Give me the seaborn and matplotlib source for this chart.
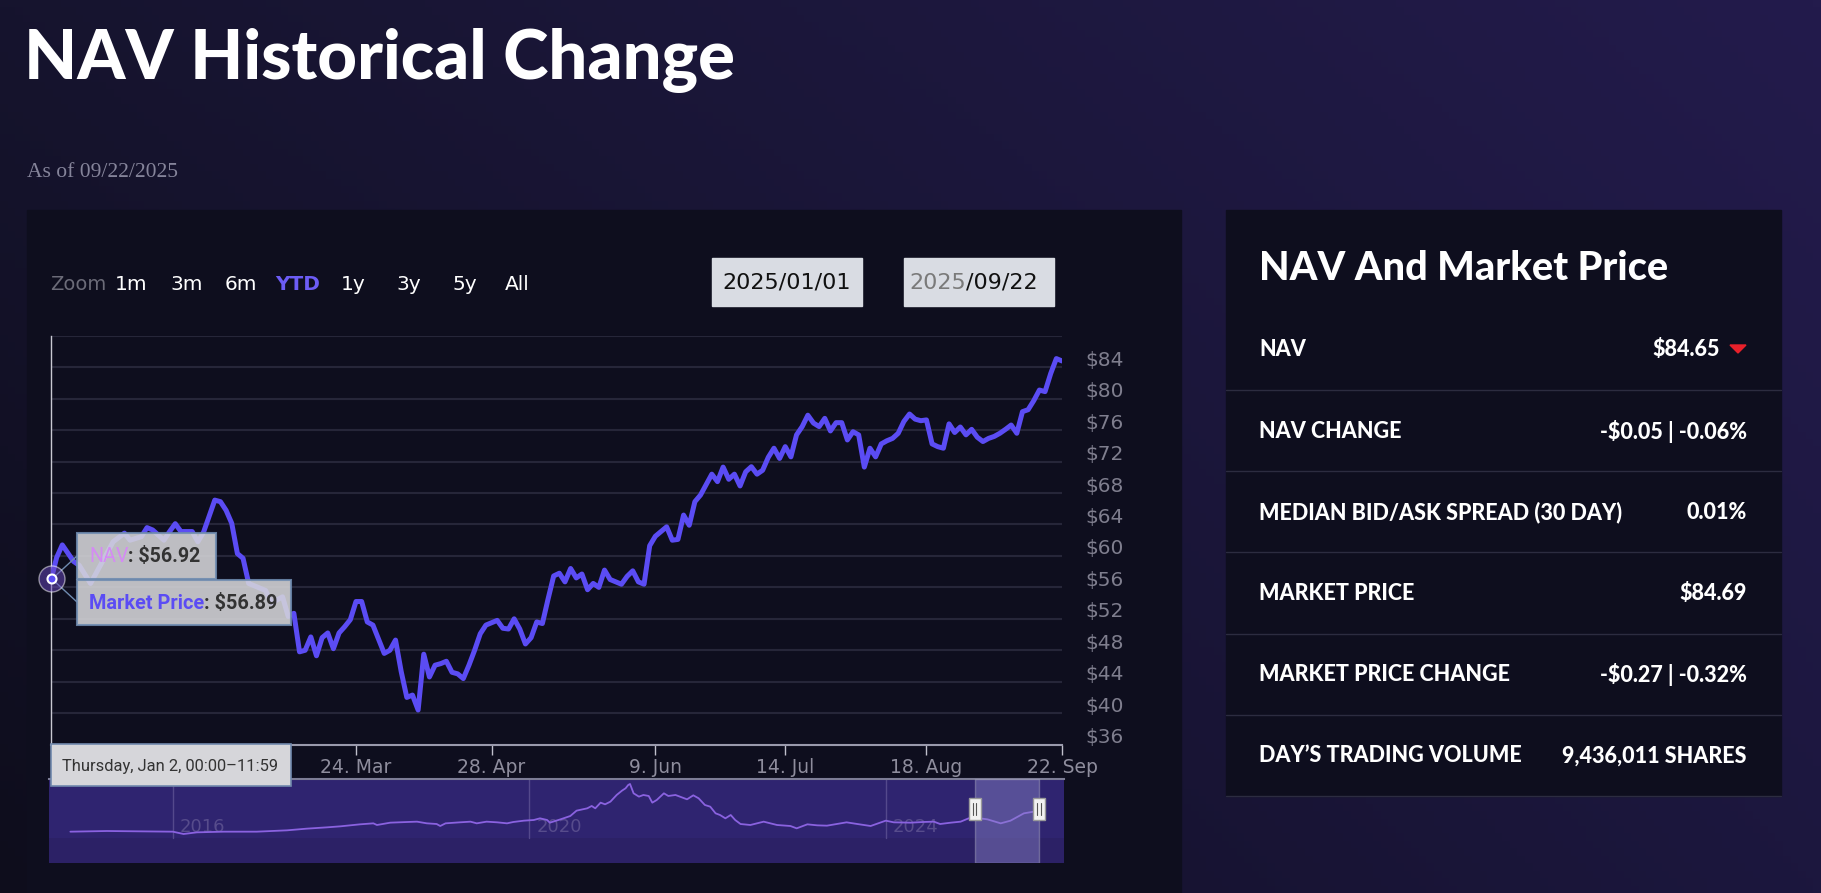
import numpy as np
import pandas as pd
import matplotlib
matplotlib.use("Agg")
import matplotlib.pyplot as plt
import seaborn as sns
from matplotlib.patches import Rectangle, Circle, Polygon
from matplotlib.transforms import ScaledTranslation

W, H = 1821, 893

# NAV, YTD 2025 (trading-day dates)
nav_days = [
    "01-02", "01-03", "01-06", "01-08", "01-10", "01-14", "01-21", "01-23", "01-24", "01-28",
    "01-29", "01-30", "02-03", "02-04", "02-05", "02-06", "02-07", "02-10", "02-11", "02-12",
    "02-14", "02-18", "02-19", "02-20", "02-21", "02-24", "02-25", "02-27", "02-28", "03-03",
    "03-05", "03-06", "03-07", "03-10", "03-11", "03-12", "03-13", "03-14", "03-17", "03-18",
    "03-19", "03-20", "03-21", "03-24", "03-25", "03-26", "03-27", "03-31", "04-01", "04-02",
    "04-03", "04-04", "04-07", "04-08", "04-09", "04-10", "04-11", "04-14", "04-15", "04-16",
    "04-17", "04-21", "04-22", "04-23", "04-24", "04-25", "04-29", "04-30", "05-01", "05-02",
    "05-05", "05-06", "05-07", "05-08", "05-09", "05-12", "05-13", "05-14", "05-15", "05-16",
    "05-19", "05-20", "05-21", "05-22", "05-23", "05-27", "05-28", "05-30", "06-02", "06-03",
    "06-04", "06-05", "06-06", "06-09", "06-11", "06-12", "06-13", "06-16", "06-17", "06-18",
    "06-20", "06-24", "06-25", "06-26", "06-27", "06-30", "07-01", "07-02", "07-03", "07-07",
    "07-08", "07-09", "07-10", "07-11", "07-14", "07-15", "07-16", "07-17", "07-18", "07-21",
    "07-22", "07-23", "07-24", "07-25", "07-28", "07-29", "07-30", "07-31", "08-01", "08-04",
    "08-05", "08-06", "08-07", "08-08", "08-11", "08-12", "08-13", "08-14", "08-15", "08-18",
    "08-19", "08-20", "08-21", "08-22", "08-25", "08-26", "08-27", "08-28", "08-29", "09-02",
    "09-03", "09-04", "09-05", "09-08", "09-09", "09-10", "09-11", "09-12", "09-15", "09-16",
    "09-17", "09-18", "09-19", "09-22",
]
nav_values = [
    56.92, 59.8, 61.4, 59.3, 58.8, 56.5, 61.8, 62.9, 62.0, 62.45,
    63.6, 63.3, 62.0, 63.1, 64.1, 63.1, 63.1, 63.1, 61.8, 63.0,
    67.1, 66.9, 65.8, 64.15, 60.3, 59.7, 56.5, 55.9, 55.6, 54.0,
    54.8, 52.3, 52.7, 47.8, 48.0, 49.7, 47.3, 49.6, 50.2, 48.2,
    50.2, 51.0, 51.9, 54.2, 54.2, 51.6, 51.2, 47.6, 48.0, 49.3,
    45.3, 42.0, 42.3, 40.4, 47.5, 44.6, 46.1, 46.3, 46.6, 45.2,
    45.0, 44.4, 46.1, 48.0, 50.1, 51.2, 51.8, 50.8, 50.7, 52.0,
    50.7, 48.8, 49.6, 51.6, 51.4, 54.5, 57.45, 57.8, 56.7, 58.4,
    57.2, 57.7, 55.7, 56.5, 56.0, 58.2, 57.0, 56.4, 57.4, 58.1,
    56.7, 56.4, 61.3, 62.5, 63.7, 62.0, 62.1, 65.2, 63.9, 66.9,
    67.75, 70.4, 69.45, 71.3, 69.75, 70.4, 68.9, 70.7, 71.35, 70.4,
    70.9, 72.55, 73.7, 72.4, 73.9, 72.6, 75.4, 76.45, 77.9, 76.9,
    76.45, 77.5, 75.9, 76.95, 76.95, 74.75, 75.8, 75.4, 71.3, 73.7,
    72.6, 74.25, 74.65, 74.95, 75.6, 77.1, 78.05, 77.4, 77.2, 77.3,
    74.25, 73.9, 73.7, 76.8, 75.7, 76.4, 75.4, 76.1, 75.1, 74.55,
    74.95, 75.2, 75.6, 76.1, 76.65, 75.6, 78.35, 78.6, 79.75, 81.1,
    80.9, 83.2, 85.1, 84.8,
]
market_holidays = ["2025-01-09", "2025-01-20", "2025-02-17", "2025-04-18",
                   "2025-05-26", "2025-06-19", "2025-07-04", "2025-09-01"]
tick_days = ["2025-02-10", "2025-03-24", "2025-04-28", "2025-06-09",
             "2025-07-14", "2025-08-18", "2025-09-22"]
# first label sits under the hover date tooltip in the screenshot
tick_labels = ["", "24. Mar", "28. Apr", "9. Jun", "14. Jul", "18. Aug", "22. Sep"]
y_ticks = [36, 40, 44, 48, 52, 56, 60, 64, 68, 72, 76, 80, 84]

# navigator: full history (decimal year, price)
hist_years = [
    2014.85, 2015.26, 2015.63, 2016.00, 2016.12, 2016.27, 2016.57, 2016.94, 2017.28, 2017.50,
    2017.73, 2017.88, 2018.10, 2018.25, 2018.29, 2018.44, 2018.63, 2018.74, 2018.85, 2018.96,
    2019.00, 2019.06, 2019.22, 2019.34, 2019.41, 2019.52, 2019.64, 2019.75, 2019.82, 2019.94,
    2020.05, 2020.12, 2020.20, 2020.23, 2020.35, 2020.46, 2020.53, 2020.65, 2020.70, 2020.74,
    2020.80, 2020.85, 2020.91, 2020.98, 2021.04, 2021.08, 2021.11, 2021.13, 2021.17, 2021.23,
    2021.28, 2021.34, 2021.38, 2021.43, 2021.51, 2021.56, 2021.64, 2021.69, 2021.77, 2021.84,
    2021.90, 2021.97, 2022.03, 2022.09, 2022.14, 2022.20, 2022.26, 2022.31, 2022.37, 2022.48,
    2022.63, 2022.78, 2022.93, 2023.00, 2023.12, 2023.23, 2023.34, 2023.45, 2023.56, 2023.68,
    2023.83, 2024.00, 2024.09, 2024.28, 2024.42, 2024.54, 2024.61, 2024.73, 2024.84, 2024.93,
    2025.00, 2025.14, 2025.29, 2025.40, 2025.55, 2025.66,
]
hist_values = [
    15, 17, 16, 15, 8, 13, 15, 15, 19, 24,
    28, 31, 37, 40, 35, 42, 44, 45, 40, 38,
    32, 40, 43, 45, 40, 45, 43, 40, 44, 48,
    50, 55, 50, 42, 52, 62, 78, 85, 92, 85,
    102, 97, 105, 125, 138, 145, 155, 158, 130, 120,
    125, 122, 102, 110, 130, 122, 125, 120, 112, 124,
    115, 95, 90, 70, 65, 55, 65, 50, 38, 35,
    45, 35, 32, 25, 37, 34, 33, 38, 43, 38,
    32, 48, 43, 42, 44, 45, 38, 42, 45, 55,
    57, 52, 40, 48, 70, 75,
]
year_ticks = [2016, 2020, 2024]
selected_range = [2025.0, 2025.72]

zoom_buttons = ["1m", "3m", "6m", "YTD", "1y", "3y", "5y", "All"]
stat_labels = ["NAV", "NAV CHANGE", "MEDIAN BID/ASK SPREAD (30 DAY)", "MARKET PRICE",
               "MARKET PRICE CHANGE", "DAY\u2019S TRADING VOLUME"]
stat_values = ["$84.65", "-$0.05 | -0.06%", "0.01%", "$84.69", "-$0.27 | -0.32%",
               "9,436,011 SHARES"]

LINE = "#5b4cf4"
PANEL = "#0e0e1e"
HEAD = ["Lato", "DejaVu Sans"]
NARROW = ["Roboto", "DejaVu Sans"]

sns.set_theme(style="dark")
plt.rcParams["font.family"] = ["DejaVu Sans"]

fig = plt.figure(figsize=(W / 100, H / 100), dpi=100)


def rect(x0, y0, x1, y1):
    return [x0 / W, 1 - y1 / H, (x1 - x0) / W, (y1 - y0) / H]


def pixel_axes(z):
    a = fig.add_axes([0, 0, 1, 1], zorder=z)
    a.set_xlim(0, W)
    a.set_ylim(H, 0)
    a.axis("off")
    a.patch.set_alpha(0)
    return a


# background gradient + panels
bg = pixel_axes(0)
gx = np.linspace(0, 1, 240)[None, :, None]
gy = np.linspace(0, 1, 120)[:, None, None]
tl, tr = np.array([22, 20, 46]) / 255, np.array([35, 27, 76]) / 255
bl, br = np.array([14, 13, 28]) / 255, np.array([28, 23, 62]) / 255
img = (1 - gx) * (1 - gy) * tl + gx * (1 - gy) * tr + (1 - gx) * gy * bl + gx * gy * br
bg.imshow(img, extent=[0, W, H, 0], aspect="auto", zorder=0)
bg.add_patch(Rectangle((27, 210), 1154, 690, color=PANEL, zorder=1))
bg.add_patch(Rectangle((1226, 210), 555, 586, color=PANEL, zorder=1))

bg.text(24, 79, "NAV Historical Change", fontsize=49.5, weight="black", color="white",
        family=HEAD, va="baseline", zorder=2)
bg.text(27, 177, "As of 09/22/2025", fontsize=15.5, color="#85849a",
        family=["Liberation Serif", "DejaVu Serif"], va="baseline", zorder=2)

# range selector row
bg.text(50, 285, "Zoom", fontsize=14, color="#6b6b78", va="center", zorder=2)
for name, x in zip(zoom_buttons, [115, 170, 225, 275, 341, 396, 452, 505]):
    sel = name == "YTD"
    bg.text(x, 285, name, fontsize=14.5, va="center", zorder=2,
            color="#6c5cf5" if sel else "white", weight="bold" if sel else "normal")
bg.add_patch(Rectangle((712, 258), 150, 48, color="#d9dce3", zorder=2))
bg.add_patch(Rectangle((904, 258), 150, 48, color="#d9dce3", zorder=2))
bg.text(787, 283, "2025/01/01", fontsize=16, color="#111111", ha="center", va="center", zorder=3)
bg.text(966, 283, "2025", fontsize=16, color="#7a7a7a", ha="right", va="center", zorder=3)
bg.text(966, 283, "/09/22", fontsize=16, color="#111111", ha="left", va="center", zorder=3)

# right stats panel
bg.text(1259, 269, "NAV And Market Price", fontsize=28.5, weight="black", color="white",
        family=HEAD, va="center", zorder=2)
for i, (lab, val) in enumerate(zip(stat_labels, stat_values)):
    yc = 350 + i * 81.2
    bg.text(1259, yc, lab, fontsize=15.5, weight="black", color="white", family=HEAD,
            va="center", zorder=2)
    bg.text(1720 if i == 0 else 1747, yc, val, fontsize=15.5, weight="black", color="white",
            family=HEAD, ha="right", va="center", zorder=2)
    bg.plot([1226, 1781], [yc + 40, yc + 40], color="#2c2c40", lw=1, zorder=2)
bg.add_patch(Polygon([[1730, 345], [1746, 345], [1738, 353]], color="#e8202a", zorder=2))

# main price chart (ordinal trading-day axis)
sessions = pd.bdate_range("2025-01-02", "2025-09-22", freq="C", holidays=market_holidays)
pos = sessions.get_indexer(pd.to_datetime(["2025-" + d for d in nav_days]))
tick_pos = sessions.get_indexer(pd.to_datetime(tick_days))

ax = fig.add_axes(rect(51, 335.8, 1062, 744.6), zorder=2)
ax.patch.set_alpha(0)
ax.axhline(88, color="#262639", lw=1.5, zorder=1)
sns.lineplot(x=pos, y=nav_values, ax=ax, color=LINE, lw=3.6, zorder=3,
             solid_joinstyle="round", solid_capstyle="round")
ax.set_xlim(0, len(sessions) - 1)
ax.set_ylim(36, 88)
ax.set_yticks(y_ticks)
ax.set_yticklabels([f"${v}" for v in y_ticks])
ax.set_xticks(tick_pos)
ax.set_xticklabels(tick_labels)
ax.grid(axis="y", color="#262639", lw=1.5)
ax.grid(axis="x", visible=False)
ax.yaxis.tick_right()
ax.tick_params(axis="y", length=0, pad=17, labelcolor="#7f7e8e", labelsize=14.5)
ax.tick_params(axis="x", length=7, width=1, color="#c0c0cc", labelcolor="#8e8d9d",
               labelsize=13.5, pad=3, bottom=True)
for s in ["top", "right"]:
    ax.spines[s].set_visible(False)
ax.spines["left"].set_color("#c8c8d2")
ax.spines["left"].set_linewidth(1)
ax.spines["bottom"].set_color("#9a9aac")
ax.spines["bottom"].set_linewidth(1.5)
ax.set_xlabel("")
ax.set_ylabel("")
shift = ScaledTranslation(0, 9 / 100, fig.dpi_scale_trans)
for lab in ax.get_yticklabels():
    lab.set_transform(lab.get_transform() + shift)

# navigator
nv = fig.add_axes(rect(49, 779.3, 1064, 862.7), zorder=2)
nv.set_facecolor("#2f2470")
nv.axhspan(-78, -5, color="#2c2166", lw=0, zorder=0)
for yr in year_ticks:
    nv.plot([yr, yr], [-5, 172], color="#54498c", lw=1, zorder=1)
    nv.text(yr + 0.08, 30, str(yr), color="#574c8c", fontsize=13, va="center", zorder=1)
sns.lineplot(x=hist_years, y=hist_values, ax=nv, color="#8a62e0", lw=1.3, zorder=2)
nv.add_patch(Rectangle((selected_range[0], -78), selected_range[1] - selected_range[0], 250,
                       fc="#8a84c8", alpha=0.45, ec="#a8a8c0", lw=1, zorder=3))
for hx in selected_range:
    nv.add_patch(Rectangle((hx - 0.067, 50), 0.134, 66, fc="#f2f2f2", ec="#9a9a9a",
                           lw=1, zorder=4))
    for dx in (-0.018, 0.018):
        nv.plot([hx + dx, hx + dx], [66, 100], color="#555555", lw=0.8, zorder=5)
nv.set_xlim(2014.61, 2026.0)
nv.set_ylim(-78, 172)
nv.set_xticks([])
nv.set_yticks([])
nv.set_xlabel("")
nv.set_ylabel("")
for s in ["left", "right", "bottom"]:
    nv.spines[s].set_visible(False)
nv.spines["top"].set_color("#7d7d96")
nv.spines["top"].set_linewidth(1.5)

# hover tooltip overlay
ov = pixel_axes(6)
fig.canvas.draw()
rend = fig.canvas.get_renderer()


def chain(x, y, parts, size, width):
    # lay out coloured text pieces in a row, scaled to the width seen in the screenshot
    texts = [ov.text(x, y, t, fontsize=size, color=c, weight=w, va="center",
                     family=NARROW, zorder=8) for t, c, w in parts]
    total = sum(t.get_window_extent(rend).width for t in texts)
    k = width / total
    for t in texts:
        t.set_fontsize(size * k)
        t.set_x(x)
        x += t.get_window_extent(rend).width


ov.plot([52, 77], [579, 556], color="#6f8bb0", lw=1, zorder=6)
ov.plot([52, 77], [579, 602], color="#6f8bb0", lw=1, zorder=6)
ov.add_patch(Circle((52, 579), 13, fc="#6a48c0", alpha=0.5, zorder=6))
ov.add_patch(Circle((52, 579), 4.5, fc=LINE, ec="white", lw=1.5, zorder=7))
ov.add_patch(Rectangle((76.7, 533.3), 139.3, 45.4, fc="#d6d6da", alpha=0.88,
                       ec="#6f8bb0", lw=1.5, zorder=7))
ov.add_patch(Rectangle((76.7, 580), 214.3, 45, fc="#d6d6da", alpha=0.88,
                       ec="#6f8bb0", lw=1.5, zorder=7))
chain(89, 556.7, [("NAV", "#d48af4", "normal"), (": $56.92", "#333333", "bold")], 15, 112)
chain(89, 603.3, [("Market Price", LINE, "bold"), (": $56.89", "#333333", "bold")], 15, 189)
ov.add_patch(Rectangle((50.5, 744), 240.5, 42, fc="#d6d6da", ec="#7189ad", lw=1.2, zorder=7))
chain(62, 766, [("Thursday, Jan 2, 00:00\u201311:59", "#333333", "normal")], 13, 216)

fig.savefig("out.png", dpi=100)
